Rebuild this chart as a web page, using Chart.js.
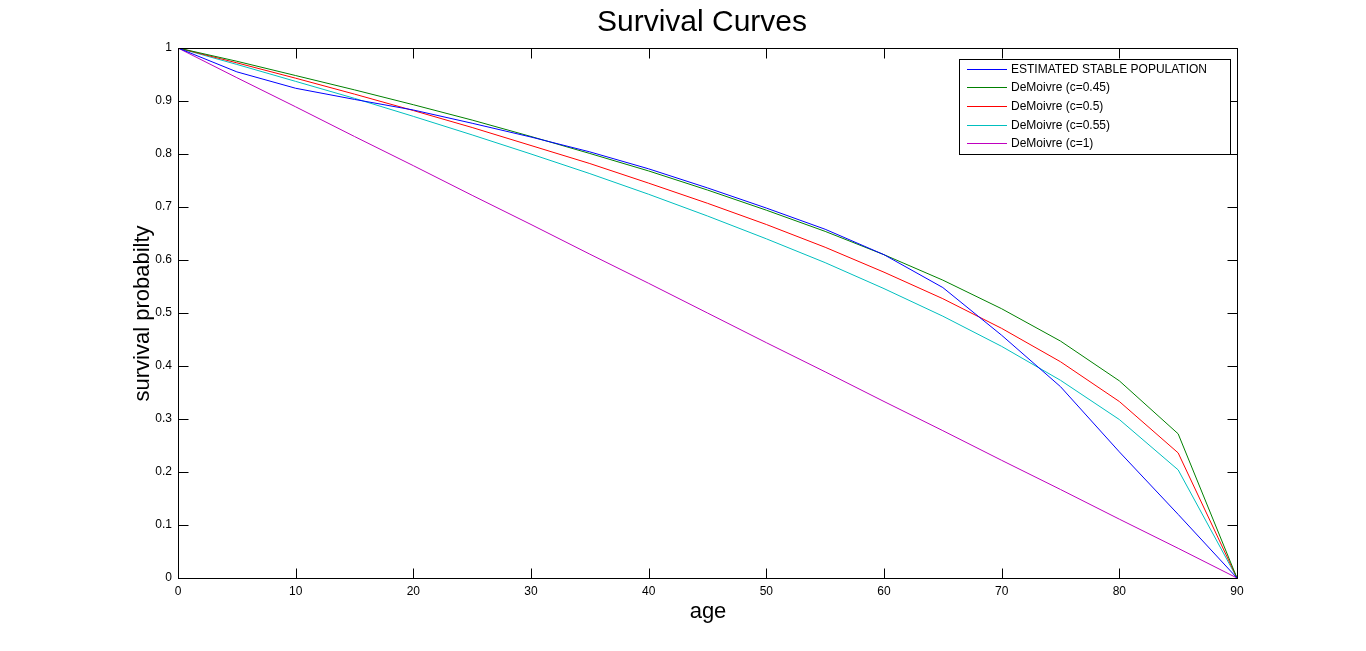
<!DOCTYPE html>
<html>
<head>
<meta charset="utf-8">
<title>Survival Curves</title>
<script src="https://cdn.jsdelivr.net/npm/chart.js@4.4.1/dist/chart.umd.min.js"></script>
<style>
    html, body { margin: 0; padding: 0; background: #fff; }
    #wrap { width: 1366px; height: 651px; position: relative; }
</style>
</head>
<body>
<div id="wrap"><canvas id="survivalChart" width="1366" height="651"></canvas></div>
<script>
// --- data ---
const ages = [0, 5, 10, 15, 20, 25, 30, 35, 40, 45, 50, 55, 60, 65, 70, 75, 80, 85, 90];

const estimated = [1, 0.955, 0.924, 0.903, 0.883, 0.858, 0.832, 0.804, 0.772, 0.736, 0.698, 0.658, 0.610, 0.548, 0.458, 0.361, 0.238, 0.120, 0];
const demoivre045 = [1, 0.975, 0.948, 0.921, 0.893, 0.864, 0.833, 0.801, 0.768, 0.732, 0.694, 0.654, 0.610, 0.562, 0.508, 0.447, 0.372, 0.272, 0];
const demoivre050 = [1, 0.972, 0.943, 0.913, 0.882, 0.850, 0.816, 0.782, 0.745, 0.707, 0.667, 0.624, 0.577, 0.527, 0.471, 0.408, 0.333, 0.236, 0];
const demoivre055 = [1, 0.969, 0.937, 0.905, 0.871, 0.836, 0.800, 0.763, 0.724, 0.683, 0.640, 0.595, 0.546, 0.494, 0.437, 0.373, 0.299, 0.204, 0];
const demoivre100 = [1, 0.944, 0.889, 0.833, 0.778, 0.722, 0.667, 0.611, 0.556, 0.500, 0.444, 0.389, 0.333, 0.278, 0.222, 0.167, 0.111, 0.056, 0];

const seriesLabels = ['ESTIMATED STABLE POPULATION', 'DeMoivre (c=0.45)', 'DeMoivre (c=0.5)', 'DeMoivre (c=0.55)', 'DeMoivre (c=1)'];
const seriesColors = ['#0000ff', '#008000', '#ff0000', '#00bfbf', '#bf00bf'];

const xTicks = [0, 10, 20, 30, 40, 50, 60, 70, 80, 90];
const yTicks = [0, 0.1, 0.2, 0.3, 0.4, 0.5, 0.6, 0.7, 0.8, 0.9, 1];
const yTickLabels = ['0', '0.1', '0.2', '0.3', '0.4', '0.5', '0.6', '0.7', '0.8', '0.9', '1'];

const titleText = 'Survival Curves';
const xTitle = 'age';
const yTitle = 'survival probabilty';

const FONT = '"Liberation Sans", Arial, Helvetica, sans-serif';
Chart.defaults.font.family = FONT;
Chart.defaults.color = '#000';

function toPoints(values) {
    return ages.map((a, i) => ({ x: a, y: values[i] }));
}

const allSeries = [estimated, demoivre045, demoivre050, demoivre055, demoivre100];

// box, inward ticks, titles and legend in MATLAB style
const matlabFrame = {
    id: 'matlabFrame',
    afterDraw(chart) {
        const ctx = chart.ctx;
        const area = chart.chartArea;
        const sx = chart.scales.x, sy = chart.scales.y;
        const L = Math.round(area.left) + 0.5, R = Math.round(area.right) + 0.5;
        const T = Math.round(area.top) + 0.5, B = Math.round(area.bottom) + 0.5;
        const tick = 10;

        ctx.save();
        ctx.strokeStyle = '#000';
        ctx.lineWidth = 1;
        ctx.strokeRect(L, T, R - L, B - T);

        ctx.beginPath();
        xTicks.forEach(v => {
            const px = Math.round(sx.getPixelForValue(v)) + 0.5;
            ctx.moveTo(px, B); ctx.lineTo(px, B - tick);
            ctx.moveTo(px, T); ctx.lineTo(px, T + tick);
        });
        yTicks.forEach(v => {
            const py = Math.round(sy.getPixelForValue(v)) + 0.5;
            ctx.moveTo(L, py); ctx.lineTo(L + tick, py);
            ctx.moveTo(R, py); ctx.lineTo(R - tick, py);
        });
        ctx.stroke();

        // title + axis titles
        ctx.fillStyle = '#000';
        ctx.textAlign = 'center';
        ctx.textBaseline = 'middle';
        ctx.font = '30px ' + FONT;
        ctx.fillText(titleText, 702, 23);
        ctx.font = '22px ' + FONT;
        ctx.fillText(xTitle, (L + R) / 2, 612);
        ctx.save();
        ctx.translate(143, (T + B) / 2);
        ctx.rotate(-Math.PI / 2);
        ctx.fillText(yTitle, 0, 0);
        ctx.restore();

        // legend
        const lx = 959.5, ly = 59.5, lw = 271, lh = 95;
        ctx.fillStyle = '#fff';
        ctx.fillRect(lx, ly, lw, lh);
        ctx.strokeStyle = '#000';
        ctx.strokeRect(lx, ly, lw, lh);
        ctx.font = '12px ' + FONT;
        ctx.textAlign = 'left';
        chart.data.datasets.forEach((ds, i) => {
            const y = Math.round(68.5 + i * 18.7) + 0.5;
            ctx.strokeStyle = ds.borderColor;
            ctx.beginPath();
            ctx.moveTo(967, y); ctx.lineTo(1007, y);
            ctx.stroke();
            ctx.fillStyle = '#000';
            ctx.fillText(ds.label, 1011, y);
        });
        ctx.restore();
    }
};

const canvas = document.getElementById('survivalChart');
new Chart(canvas.getContext('2d'), {
    type: 'line',
    data: {
        datasets: allSeries.map((vals, i) => ({
            label: seriesLabels[i],
            data: toPoints(vals),
            borderColor: seriesColors[i],
            backgroundColor: seriesColors[i],
            borderWidth: 1,
            pointRadius: 0,
            tension: 0,
            fill: false
        }))
    },
    options: {
        responsive: false,
        animation: false,
        devicePixelRatio: 1,
        layout: { padding: { top: 48, right: 129, left: 0, bottom: 0 } },
        plugins: {
            legend: { display: false },
            title: { display: false },
            tooltip: { enabled: false }
        },
        scales: {
            x: {
                type: 'linear',
                min: 0,
                max: 90,
                afterFit: s => { s.height = 73; },
                afterBuildTicks: s => { s.ticks = xTicks.map(v => ({ value: v })); },
                grid: { display: false, drawTicks: false },
                border: { display: false },
                ticks: { padding: 6, maxRotation: 0, font: { size: 12 }, color: '#000' }
            },
            y: {
                type: 'linear',
                min: 0,
                max: 1,
                afterFit: s => { s.width = 178; },
                afterBuildTicks: s => { s.ticks = yTicks.map(v => ({ value: v })); },
                grid: { display: false, drawTicks: false },
                border: { display: false },
                ticks: {
                    padding: 6,
                    font: { size: 12 },
                    color: '#000',
                    callback: (v, i) => yTickLabels[i]
                }
            }
        }
    },
    plugins: [matlabFrame]
});
</script>
</body>
</html>
